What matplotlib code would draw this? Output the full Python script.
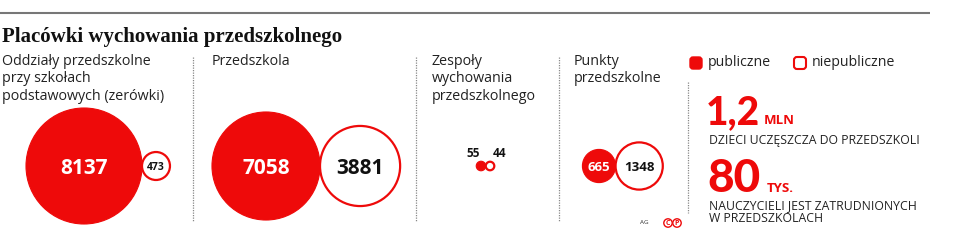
import matplotlib.pyplot as plt
import numpy as np
from matplotlib.patches import Circle, FancyBboxPatch

# Data
categories = ['Oddziały przedszkolne\nprzy szkołach\npodstawowych (zerówki)',
              'Przedszkola',
              'Zespoły\nwychowania\nprzedszkolnego',
              'Punkty\nprzedszkolne']
public = [8137, 7058, 55, 665]
nonpublic = [473, 3881, 44, 1348]
legend_labels = ['publiczne', 'niepubliczne']

RED = '#ee0a0a'
SANS = 'Open Sans'

fig = plt.figure(figsize=(9.58, 2.44), dpi=100)
ax = fig.add_axes([0, 0, 1, 1])
ax.set_xlim(0, 958)
ax.set_ylim(244, 0)
ax.axis('off')

# top rule + title
ax.plot([0, 930], [13, 13], color='#777777', lw=1.5, solid_capstyle='butt')
ax.text(2, 42, 'Placówki wychowania przedszkolnego', family='Liberation Serif',
        weight='bold', fontsize=15, va='baseline', ha='left', color='#111111')

# panel titles and separators
title_x = [2, 212, 432, 574]
sep_x = [193, 416, 559]
for x, t in zip(title_x, categories):
    ax.text(x, 54, t, family=SANS, fontsize=10.3, va='top', ha='left',
            color='#222222', linespacing=1.22)
for x in sep_x:
    ax.plot([x, x], [57, 222], color='#888888', lw=0.9, ls=(0, (1, 1)))
ax.plot([688, 688], [82, 213], color='#888888', lw=0.9, ls=(0, (1, 1)))

# bubbles, area proportional to value
k = 58 / np.sqrt(max(public))
cx = [84, 266, 481, 599]
cy = 166
for i in range(len(categories)):
    r1 = k * np.sqrt(public[i])
    r2 = k * np.sqrt(nonpublic[i])
    x2 = cx[i] + r1 + r2
    ax.add_patch(Circle((cx[i], cy), r1, facecolor=RED, edgecolor=RED, lw=0.8))
    ax.add_patch(Circle((x2, cy), r2, facecolor='white', edgecolor=RED, lw=1.6))
    if public[i] < 100:
        ax.text(cx[i] - 8, cy - 9, str(public[i]), family=SANS, weight='bold',
                fontsize=8.5, ha='center', va='baseline', color='#111111')
        ax.text(x2 + 9, cy - 9, str(nonpublic[i]), family=SANS, weight='bold',
                fontsize=8.5, ha='center', va='baseline', color='#111111')
    else:
        fs1 = 15 if r1 > 40 else 9.5
        fs2 = 15 if r2 > 30 else (9.5 if r2 > 18 else 7.5)
        ax.text(cx[i], cy, str(public[i]), family=SANS, weight='bold',
                fontsize=fs1, ha='center', va='center_baseline', color='white')
        ax.text(x2, cy, str(nonpublic[i]), family=SANS, weight='bold',
                fontsize=fs2, ha='center', va='center_baseline', color='#111111')

# legend
ax.add_patch(FancyBboxPatch((690, 57), 12, 12, boxstyle='round,pad=0,rounding_size=3',
                            facecolor=RED, edgecolor=RED, lw=1))
ax.text(708, 63, legend_labels[0], family=SANS, fontsize=10.2, va='center', color='#222222')
ax.add_patch(FancyBboxPatch((794, 57), 12, 12, boxstyle='round,pad=0,rounding_size=3',
                            facecolor='white', edgecolor=RED, lw=1.5))
ax.text(812, 63, legend_labels[1], family=SANS, fontsize=10.2, va='center', color='#222222')

# big numbers
ax.text(706, 124, '1,2', family=['Lato', SANS], weight='black', fontsize=28, color=RED,
        va='baseline')
ax.text(764, 124, 'MLN', family=SANS, weight='bold', fontsize=9.5, color=RED, va='baseline')
ax.text(709, 144, 'DZIECI UCZĘSZCZA DO PRZEDSZKOLI', family=SANS, fontsize=8.8,
        color='#222222', va='baseline')
ax.text(707, 192, '80', family=['Lato', SANS], weight='black', fontsize=33, color=RED,
        va='baseline')
ax.text(767, 192, 'TYS.', family=SANS, weight='bold', fontsize=9.5, color=RED, va='baseline')
ax.text(709, 209, 'NAUCZYCIELI JEST ZATRUDNIONYCH', family=SANS, fontsize=8.8,
        color='#222222', va='baseline')
ax.text(709, 222, 'W PRZEDSZKOLACH', family=SANS, fontsize=8.8,
        color='#222222', va='baseline')

# credits
ax.text(644, 223, 'AG', family=SANS, fontsize=4.5, color='#333333', ha='center', va='center')
for x, ch in [(668, 'C'), (677, 'P')]:
    ax.add_patch(Circle((x, 223), 4.2, facecolor='white', edgecolor=RED, lw=1))
    ax.text(x, 223.3, ch, family=SANS, weight='bold', fontsize=5, color=RED,
            ha='center', va='center')

fig.savefig('out.png', dpi=100)
